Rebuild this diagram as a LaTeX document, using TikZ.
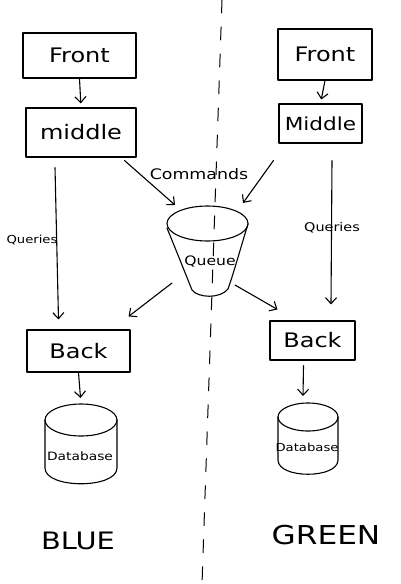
\documentclass[tikz,border=0pt]{standalone}
\usepackage{fontspec}
\setmainfont{DejaVu Sans}[FakeStretch=1.2]
\usetikzlibrary{arrows.meta}
\begin{document}
\begin{tikzpicture}[x=1pt,y=-1pt,
  line width=1.1pt, line cap=round, line join=round,
  box/.style={draw, rectangle, inner sep=0pt, font=\fontsize{20}{20}\selectfont},
  arr/.style={-{Straight Barb[length=6pt,width=11pt,line width=1.1pt]}},
  lbl/.style={inner sep=0pt, font=\fontsize{12}{12}\selectfont},
  dblbl/.style={inner sep=0pt, font=\fontsize{11.5}{11.5}\selectfont},
  big/.style={inner sep=0pt, font=\fontsize{25}{25}\selectfont}
]
\useasboundingbox[fill=white] (0,0) rectangle (400,584);
% divider
\coordinate (divtop) at (222,0);
\coordinate (divbot) at (202,584);
\draw[line width=1pt, dash pattern=on 13pt off 14pt] (divtop) -- (divbot);

% boxes
\node[box, minimum width=113, minimum height=45] (fL) at (79.5,55.5) {Front};
\node[box, minimum width=110, minimum height=49] (mL) at (81,132.5) {middle};
\node[box, minimum width=94, minimum height=51] (fR) at (325,54.5) {Front};
\node[box, minimum width=83, minimum height=39, font=\fontsize{18}{18}\selectfont] (mR) at (320.5,123.5) {Middle};
\node[box, minimum width=103, minimum height=42] (bL) at (78.5,351) {Back};
\node[box, minimum width=85, minimum height=39] (bR) at (312.5,340.5) {Back};

% queue shape
\draw (207.5,223.5) ellipse [x radius=40.5, y radius=17.5];
\draw (167,228) .. controls (178,255) and (186,275) .. (192,290)
      .. controls (198,298) and (220,299) .. (228,289)
      .. controls (234,272) and (240,250) .. (248,224);
\node[lbl, font=\fontsize{13}{13}\selectfont] (queue) at (210,262) {Queue};
\coordinate (qTL) at (175,205);
\coordinate (qTR) at (243,203);
\coordinate (qBL) at (172,283);
\coordinate (qBR) at (235,285);

% databases
\draw (81,420) ellipse [x radius=36, y radius=16];
\draw (45,420) -- (45,468) .. controls (45,489) and (117,489) .. (117,468) -- (117,420);
\node[dblbl] (dbL) at (80,456) {Database};
\coordinate (dbLtop) at (81,404);

\draw (308,417) ellipse [x radius=30, y radius=14];
\draw (278,417) -- (278,460) .. controls (278,479) and (338,479) .. (338,460) -- (338,417);
\node[dblbl, font=\fontsize{11}{11}\selectfont] (dbR) at (307,447) {Database};
\coordinate (dbRtop) at (308,403);

% arrows
\draw[arr, shorten >=4pt] (fL.south) -- (mL.north);
\draw[arr, shorten >=4pt] (fR.south) -- (mR.north);
\draw[arr] ([xshift=-26pt,yshift=-10pt]mL.south) -- ([xshift=-20pt,yshift=10pt]bL.north);
\draw[arr] ([xshift=11.5pt,yshift=-17pt]mR.south) -- ([xshift=18.5pt,yshift=16pt]bR.north);
\draw[arr] ([xshift=-12pt,yshift=-3pt]mL.south east) -- (qTL);
\draw[arr] ([xshift=-5pt,yshift=-17pt]mR.south west) -- (qTR);
\draw[arr] (qBL) -- ([xshift=-2pt,yshift=13pt]bL.north east);
\draw[arr] (qBR) -- ([xshift=8pt,yshift=11pt]bR.north west);
\draw[arr, shorten >=6pt] (bL.south) -- (dbLtop);
\draw[arr] ([xshift=-9pt,yshift=-5pt]bR.south) -- ([xshift=-5pt,yshift=7pt]dbRtop);

% labels
\node[lbl, font=\fontsize{11}{11}\selectfont] (qlL) at (32,240) {Queries};
\node[lbl] (qlR) at (332,228) {Queries};
\node[lbl, font=\fontsize{14.5}{14.5}\selectfont] (cmd) at (199,174) {Commands};
\node[big, font=\fontsize{24}{24}\selectfont] (blue) at (78,541) {BLUE};
\node[big, font=\fontsize{26}{26}\selectfont] (green) at (326,535) {GREEN};
\end{tikzpicture}
\end{document}
